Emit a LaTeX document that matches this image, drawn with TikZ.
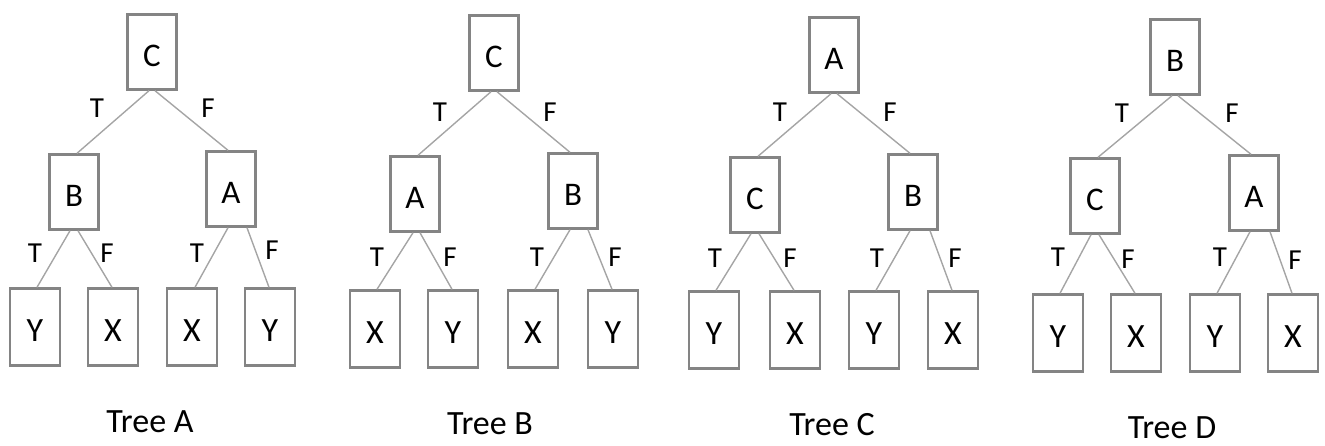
\documentclass[tikz,border=0pt]{standalone}
\usepackage{fontspec}
\setmainfont{Carlito}
\definecolor{boxgray}{RGB}{132,132,132}
\definecolor{edgegray}{RGB}{165,165,165}
\tikzset{
  innerbox/.style={draw=boxgray, line width=2.4pt, minimum width=49pt, minimum height=75pt, inner sep=0pt, text height=28pt, text depth=0pt, font=\fontsize{33}{38}\selectfont},
  leafbox/.style={draw=boxgray, line width=2.4pt, minimum width=50pt, minimum height=77pt, inner sep=0pt, text height=29pt, text depth=0pt, font=\fontsize{34}{39}\selectfont},
  conn/.style={draw=edgegray, line width=1.4pt},
  lbl/.style={inner sep=0pt, font=\fontsize{29}{34}\selectfont},
  treecap/.style={inner sep=0pt, anchor=base, font=\fontsize{34}{40}\selectfont}
}
\begin{document}
\begin{tikzpicture}[x=1pt,y=-1pt]
\useasboundingbox (0,0) rectangle (1325,445);
% ---------- Tree A ----------
\node[innerbox] (ar) at (152,52) {C};
\node[innerbox] (al) at (74,192) {B};
\node[innerbox] (aR) at (231,189) {A};
\node[leafbox] (a1) at (35,327) {Y};
\node[leafbox] (a2) at (113,327) {X};
\node[leafbox] (a3) at (192,327) {X};
\node[leafbox] (a4) at (270,327) {Y};
\draw[conn] ([xshift=-3pt]ar.south) -- ([xshift=3pt]al.north);
\draw[conn] ([xshift=3pt]ar.south) -- ([xshift=-3pt]aR.north);
\draw[conn] ([xshift=-4pt]al.south) -- ([xshift=2pt]a1.north);
\draw[conn] ([xshift=4pt]al.south) -- ([xshift=-1pt]a2.north);
\draw[conn] ([xshift=-3pt]aR.south) -- ([xshift=3pt]a3.north);
\draw[conn] ([xshift=16pt]aR.south) -- ([xshift=-1pt]a4.north);
\node[lbl] (at1) at (97,108) {T};
\node[lbl] (af1) at (208,108) {F};
\node[lbl] (at2) at (35,253) {T};
\node[lbl] (af2) at (107,253) {F};
\node[lbl] (at3) at (197,253) {T};
\node[lbl] (af3) at (272,250) {F};
\node[treecap] (acap) at (150,432) {Tree A};
% ---------- Tree B ----------
\node[innerbox] (br) at (494,53) {C};
\node[innerbox] (bl) at (415,194) {A};
\node[innerbox] (bR) at (573,191) {B};
\node[leafbox] (b1) at (375,329) {X};
\node[leafbox] (b2) at (453,329) {Y};
\node[leafbox] (b3) at (533,329) {X};
\node[leafbox] (b4) at (613,329) {Y};
\draw[conn] ([xshift=-3pt]br.south) -- ([xshift=3pt]bl.north);
\draw[conn] ([xshift=3pt]br.south) -- ([xshift=-3pt]bR.north);
\draw[conn] ([xshift=-2pt]bl.south) -- ([xshift=2pt]b1.north);
\draw[conn] ([xshift=5pt]bl.south) -- ([xshift=-1pt]b2.north);
\draw[conn] ([xshift=-3pt]bR.south) -- ([xshift=2pt]b3.north);
\draw[conn] ([xshift=15pt]bR.south) -- ([xshift=-1pt]b4.north);
\node[lbl] (bt1) at (440,112) {T};
\node[lbl] (bf1) at (550,112) {F};
\node[lbl] (bt2) at (377,257) {T};
\node[lbl] (bf2) at (450,257) {F};
\node[lbl] (bt3) at (537,257) {T};
\node[lbl] (bf3) at (615,257) {F};
\node[treecap] (bcap) at (490,434) {Tree B};
% ---------- Tree C ----------
\node[innerbox] (cr) at (834,55) {A};
\node[innerbox] (cl) at (755,195) {C};
\node[innerbox] (cR) at (913,192) {B};
\node[leafbox] (c1) at (714,330) {Y};
\node[leafbox] (c2) at (795,330) {X};
\node[leafbox] (c3) at (874,330) {Y};
\node[leafbox] (c4) at (953,330) {X};
\draw[conn] ([xshift=-3pt]cr.south) -- ([xshift=3pt]cl.north);
\draw[conn] ([xshift=3pt]cr.south) -- ([xshift=-3pt]cR.north);
\draw[conn] ([xshift=-4pt]cl.south) -- ([xshift=2pt]c1.north);
\draw[conn] ([xshift=4pt]cl.south) -- ([xshift=-1pt]c2.north);
\draw[conn] ([xshift=-3pt]cR.south) -- ([xshift=2pt]c3.north);
\draw[conn] ([xshift=17pt]cR.south) -- ([xshift=-1pt]c4.north);
\node[lbl] (ct1) at (780,112) {T};
\node[lbl] (cf1) at (890,112) {F};
\node[lbl] (ct2) at (715,258) {T};
\node[lbl] (cf2) at (790,258) {F};
\node[lbl] (ct3) at (877,258) {T};
\node[lbl] (cf3) at (955,258) {F};
\node[treecap] (ccap) at (832,435) {Tree C};
% ---------- Tree D ----------
\node[innerbox] (dr) at (1175,57) {B};
\node[innerbox] (dl) at (1095,196) {C};
\node[innerbox] (dR) at (1254,193) {A};
\node[leafbox] (d1) at (1058,333) {Y};
\node[leafbox] (d2) at (1136,333) {X};
\node[leafbox] (d3) at (1215,333) {Y};
\node[leafbox] (d4) at (1293,333) {X};
\draw[conn] ([xshift=-3pt]dr.south) -- ([xshift=3pt]dl.north);
\draw[conn] ([xshift=3pt]dr.south) -- ([xshift=-3pt]dR.north);
\draw[conn] ([xshift=-4pt]dl.south) -- ([xshift=2pt]d1.north);
\draw[conn] ([xshift=4pt]dl.south) -- ([xshift=-1pt]d2.north);
\draw[conn] ([xshift=-4pt]dR.south) -- ([xshift=2pt]d3.north);
\draw[conn] ([xshift=16pt]dR.south) -- ([xshift=-1pt]d4.north);
\node[lbl] (dt1) at (1122,113) {T};
\node[lbl] (df1) at (1232,113) {F};
\node[lbl] (dt2) at (1058,257) {T};
\node[lbl] (df2) at (1128,259) {F};
\node[lbl] (dt3) at (1220,257) {T};
\node[lbl] (df3) at (1295,260) {F};
\node[treecap] (dcap) at (1172,438) {Tree D};
\end{tikzpicture}
\end{document}
